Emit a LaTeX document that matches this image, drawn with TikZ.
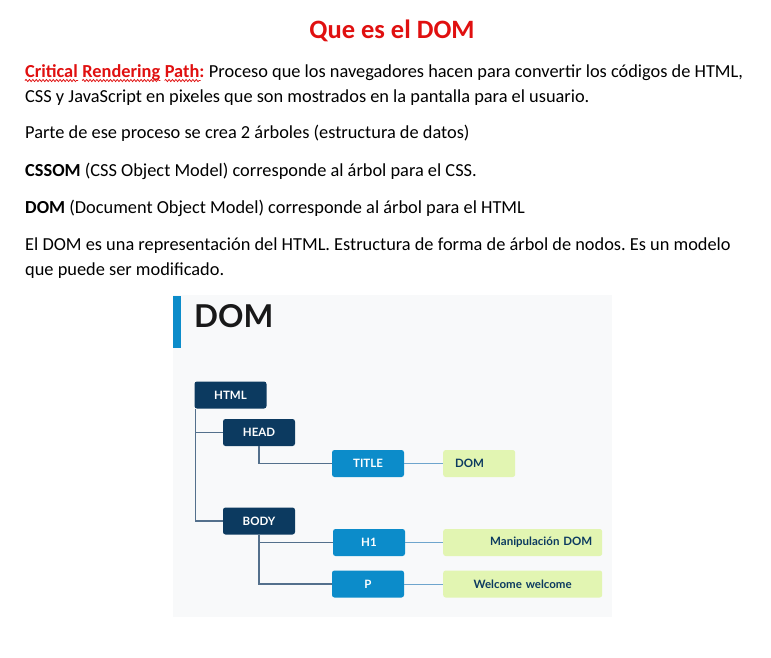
\documentclass[tikz,border=0pt]{standalone}
\usepackage{fontspec}
\setmainfont{Carlito}
\newfontfamily\lato{Lato}
\usepackage{xcolor}
\usepackage{tikz}
\usetikzlibrary{calc,positioning}
\usetikzlibrary{decorations.pathmorphing}
\frenchspacing

\definecolor{wordred}{RGB}{224,16,16}
\definecolor{domnavy}{RGB}{12,58,96}
\definecolor{domblue}{RGB}{12,140,202}
\definecolor{domgreen}{RGB}{226,245,178}
\definecolor{domline}{RGB}{84,112,140}
\definecolor{leafline}{RGB}{110,165,205}
\definecolor{domback}{RGB}{248,249,250}

\tikzset{
  bodytext/.style={anchor=base west, inner sep=0pt, font=\fontsize{18.35}{22}\selectfont},
  redword/.style={bodytext, text=wordred, font=\fontsize{18.35}{22}\selectfont\bfseries},
  spell/.style={draw=wordred, line width=0.75pt, decorate,
    decoration={snake, amplitude=1.1pt, segment length=3.4pt}},
  tag/.style={rounded corners=2.5pt, inner sep=0pt, minimum width=72pt, minimum height=27pt,
    text=white, font=\lato\bfseries\fontsize{11.5}{13}\selectfont},
  outer/.style={tag, fill=domnavy},
  inner/.style={tag, fill=domblue},
  leaf/.style={tag, fill=domgreen, text=domnavy, inner xsep=10pt},
  trunk/.style={draw=domline, line width=1.5pt},
  twig/.style={draw=leafline, line width=1pt},
}

\begin{document}
\begin{tikzpicture}[x=1pt, y=-1pt]
  \useasboundingbox (0,0) rectangle (771,657);
  \newcommand\txtX{25}   % = left margin of the text

  % Title
  \node[text=wordred, font=\fontsize{26.5}{30}\selectfont\bfseries] (title) at (392,31) {Que es el DOM};

  % Text
  \node[redword] (crit) at (\txtX,77) {Critical};
  \node[redword] (rend) at ($(crit.base east)+(4.2,0)$) {Rendering};
  \node[redword] (path) at ($(rend.base east)+(4.2,0)$) {Path:};
  \node[bodytext] (line1) at ($(path.base east)+(4.2,0)$) {Proceso que los navegadores hacen para convertir los códigos de HTML,};
  \foreach \w in {crit,rend} {
    \draw[spell] ([yshift=-3.5pt]\w.base west) -- ([yshift=-3.5pt]\w.base east);
  }
  \draw[spell] ([yshift=-3.5pt]path.base west) -- ([xshift=-4pt,yshift=-3.5pt]path.base east);
  \node[bodytext] (line2) at (\txtX,102) {CSS y JavaScript en pixeles que son mostrados en la pantalla para el usuario.};
  \node[bodytext] (line3) at (\txtX,138) {Parte de ese proceso se crea 2 árboles (estructura de datos)};
  \node[bodytext] (line4) at (\txtX,176) {\textbf{CSSOM} (CSS Object Model) corresponde al árbol para el CSS.};
  \node[bodytext] (line5) at (\txtX,213) {\textbf{DOM} (Document Object Model) corresponde al árbol para el HTML};
  \node[bodytext] (line6) at (\txtX,250) {El DOM es una representación del HTML. Estructura de forma de árbol de nodos. Es un modelo};
  \node[bodytext] (line7) at (\txtX,275) {que puede ser modificado.};

  % DOM picture
  \fill[domback] (173,295) rectangle (612,617);
  \fill[domblue] (173,296) rectangle (181,348);
  \node[anchor=base west, inner sep=0pt, text=black!90, font=\lato\bfseries\fontsize{31.5}{34}\selectfont] (head) at (194,327) {DOM};

  \node[outer] (html)  at (230.5,395) {HTML};
  \node[outer] (headt) at (259,432.5) {HEAD};
  \node[outer] (bodyt) at (259,521) {BODY};
  \node[inner] (titlet) at (368,463.5) {TITLE};
  \node[inner] (h1t)   at (369,542.5) {H1};
  \node[inner] (pt)    at (368,584) {P};
  \node[leaf, text width=48pt, align=left, anchor=west]   (domleaf) at (443,463.5) {DOM};
  \node[leaf, text width=139pt, align=right, anchor=west] (h1leaf)  at (443,542.5) {Manipulación DOM};
  \node[leaf, text width=139pt, align=center, anchor=west] (pleaf)  at (443,584) {Welcome welcome};

  % Tree
  \draw[trunk] ([xshift=1pt]html.south west) |- (headt.west);
  \draw[trunk] ([xshift=1pt]html.south west) |- (bodyt.west);
  \draw[trunk] (headt.south) |- (titlet.west);
  \draw[trunk] (bodyt.south) |- (h1t.west);
  \draw[trunk] (bodyt.south) |- (pt.west);
  \draw[twig] (titlet) -- (domleaf);
  \draw[twig] (h1t) -- (h1leaf);
  \draw[twig] (pt) -- (pleaf);
\end{tikzpicture}
\end{document}
